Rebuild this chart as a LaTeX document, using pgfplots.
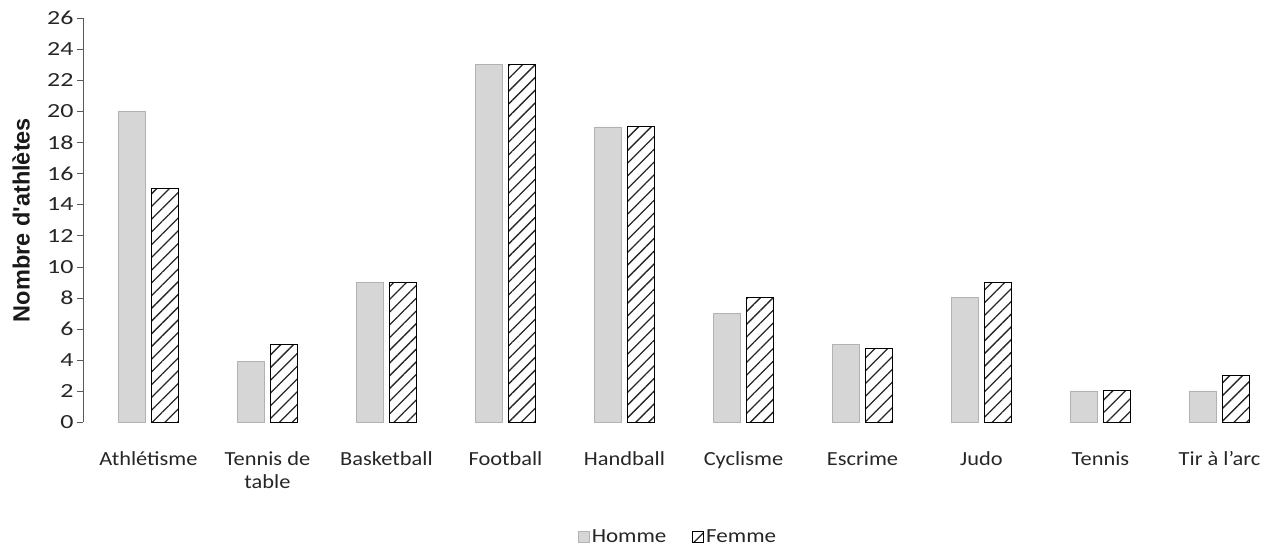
\documentclass[border=0pt]{standalone}
\usepackage{fontspec}
\setmainfont{Carlito}
\newfontfamily\arialb{Liberation Sans}
\usepackage{graphicx}
\usepackage{pgfplots}
\pgfplotsset{compat=1.18}
\usetikzlibrary{patterns.meta}
\definecolor{hom}{RGB}{214,214,214}
\newcommand\sx[1]{\scalebox{1.12}[1]{#1}}
\begin{document}
\begin{tikzpicture}
\begin{axis}[
  scale only axis,
  width=1190pt, height=404pt,
  xmin=-0.55, xmax=9.45, ymin=0, ymax=26,
  ytick={0,2,...,26},
  xtick={0,...,9},
  xticklabels={\sx{Athlétisme},\sx{\begin{tabular}[t]{@{}c@{}}Tennis de\\[-1pt]table\end{tabular}},\sx{Basketball},\sx{Football},\sx{Handball},\sx{Cyclisme},\sx{Escrime},\sx{Judo},\sx{Tennis},\sx{Tir à l'arc}},
  xticklabel style={anchor=north, text height=14pt, font=\fontsize{20}{24}\selectfont, text=black!85, yshift=-20pt},
  yticklabel={\scalebox{1.3}[1]{\pgfmathprintnumber{\tick}}},
  yticklabel style={font=\fontsize{20}{22}\selectfont, text=black!85},
  /pgf/number format/assume math mode=true,
  axis lines=left,
  axis line style={-, black!65},
  x axis line style={draw=none},
  xtick style={draw=none},
  ytick style={black!65},
  tick align=outside,
  major tick length=6pt,
  ylabel={\arialb\bfseries Nombre d'athlètes},
  every axis y label/.style={at={(axis description cs:0,0.5)}, xshift=-62pt, rotate=90, anchor=center, font=\fontsize{23.5}{26}\selectfont, text=black!90},
  legend style={at={(0.5,-0.285)}, anchor=center, draw=none, legend columns=2,
    font=\fontsize{20}{22}\selectfont, text=black!85,
    /tikz/every even column/.append style={column sep=24pt}},
  legend image code/.code={\draw[#1, line width=0.8pt] (0pt,-5pt) rectangle (11pt,6pt);},
]
\addplot[ybar, bar width=27pt, bar shift=-16.5pt, fill=hom, draw=gray!60] coordinates {
 (0,20) (1,3.9) (2,9) (3,23) (4,19) (5,7) (6,5) (7,8) (8,2) (9,2)};
\addlegendentry{\scalebox{1.15}[1]{Homme}}
\addplot[ybar, bar width=27pt, bar shift=16.5pt, draw=black, line width=1pt,
  pattern={Lines[angle=45,distance=9pt,line width=1.3pt]}, pattern color=black!85] coordinates {
 (0,15) (1,5) (2,9) (3,23) (4,19) (5,8) (6,4.7) (7,9) (8,2) (9,3)};
\addlegendentry{\scalebox{1.15}[1]{Femme}}
\end{axis}
\pgfresetboundingbox
\path[use as bounding box] (-83pt,-127pt) rectangle (1195pt,422pt);
\end{tikzpicture}
\end{document}
